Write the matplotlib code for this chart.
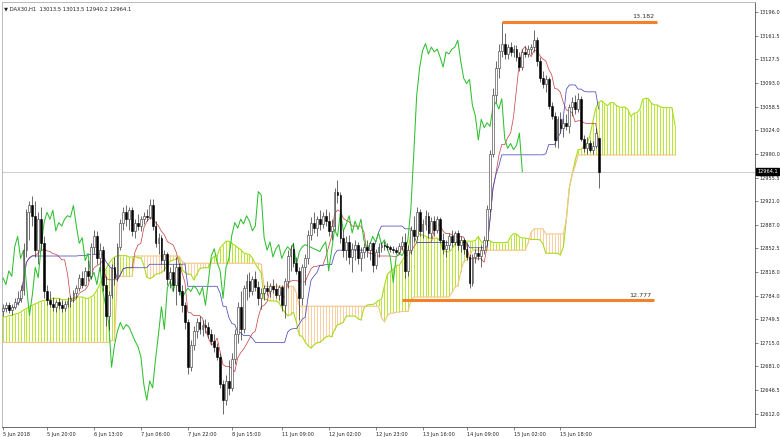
import numpy as np
import pandas as pd
import matplotlib
matplotlib.use("Agg")
import matplotlib.pyplot as plt

# DAX30 H1 candles
opens = [12762, 12766, 12770, 12763, 12768, 12774, 12780, 12792, 12850, 12905,
         12915, 12900, 12850, 12895, 12860, 12790, 12778, 12772, 12768, 12774,
         12770, 12766, 12772, 12776, 12780, 12788, 12795, 12810, 12800, 12820,
         12812, 12855, 12870, 12838, 12850, 12800, 12755, 12785, 12825, 12810,
         12855, 12890, 12905, 12895, 12908, 12878, 12890, 12885, 12895, 12900,
         12898, 12915, 12885, 12860, 12868, 12835, 12845, 12808, 12818, 12800,
         12825, 12790, 12770, 12745, 12680, 12712, 12732, 12745, 12735, 12742,
         12738, 12728, 12718, 12710, 12695, 12655, 12632, 12660, 12650, 12692,
         12728, 12768, 12735, 12795, 12805, 12790, 12808, 12796, 12780, 12788,
         12795, 12790, 12798, 12794, 12785, 12796, 12770, 12805, 12842, 12852,
         12832, 12820, 12780, 12825, 12838, 12872, 12890, 12882, 12895, 12888,
         12900, 12892, 12878, 12885, 12935, 12930, 12868, 12850, 12862, 12840,
         12852, 12858, 12838, 12848, 12855, 12850, 12860, 12828, 12848, 12855,
         12858, 12856, 12854, 12852, 12850, 12848, 12856, 12862, 12820, 12850,
         12880, 12870, 12905, 12878, 12888, 12900, 12875, 12892, 12880, 12895,
         12865, 12852, 12858, 12870, 12862, 12875, 12858, 12865, 12852, 12840,
         12803, 12840, 12846, 12842, 12850, 12865, 12910, 12990, 13075, 13115,
         13140, 13150, 13135, 13145, 13138, 13142, 13130, 13116, 13138, 13135,
         13142, 13145, 13155, 13125, 13100, 13092, 13098, 13060, 13045, 13010,
         13040, 13028, 13035, 13030, 13058, 13065, 13055, 13070, 13012, 12998,
         13005, 12996, 13002, 13013.5]
highs = [12772, 12775, 12774, 12772, 12780, 12790, 12800, 12860, 12910, 12922,
         12928, 12922, 12905, 12912, 12870, 12800, 12790, 12782, 12778, 12780,
         12778, 12776, 12782, 12785, 12792, 12800, 12815, 12820, 12825, 12835,
         12860, 12880, 12878, 12860, 12856, 12812, 12790, 12830, 12840, 12860,
         12895, 12912, 12915, 12912, 12912, 12895, 12902, 12900, 12906, 12910,
         12925, 12925, 12892, 12875, 12872, 12850, 12848, 12825, 12830, 12840,
         12832, 12800, 12775, 12750, 12720, 12740, 12752, 12755, 12748, 12750,
         12745, 12735, 12728, 12715, 12700, 12662, 12668, 12690, 12700, 12735,
         12775, 12790, 12800, 12815, 12818, 12812, 12820, 12805, 12795, 12800,
         12805, 12802, 12808, 12803, 12800, 12800, 12810, 12850, 12858, 12860,
         12840, 12825, 12830, 12845, 12880, 12898, 12905, 12900, 12908, 12906,
         12910, 12905, 12895, 12940, 12952, 12935, 12880, 12870, 12872, 12860,
         12865, 12862, 12855, 12860, 12865, 12862, 12862, 12852, 12860, 12862,
         12864, 12860, 12858, 12856, 12855, 12860, 12870, 12875, 12858, 12885,
         12900, 12912, 12910, 12895, 12908, 12905, 12898, 12900, 12900, 12898,
         12875, 12865, 12875, 12880, 12878, 12880, 12870, 12868, 12860, 12845,
         12845, 12852, 12855, 12858, 12870, 12915, 12995, 13085, 13125, 13150,
         13182, 13165, 13150, 13152, 13148, 13148, 13138, 13142, 13146, 13148,
         13150, 13170, 13160, 13130, 13110, 13105, 13102, 13065, 13050, 13045,
         13050, 13042, 13048, 13062, 13072, 13075, 13078, 13074, 13018, 13015,
         13010, 13008, 13028, 13013.5]
lows = [12755, 12760, 12758, 12756, 12764, 12770, 12775, 12785, 12840, 12865,
        12885, 12840, 12830, 12850, 12780, 12770, 12768, 12762, 12760, 12765,
        12760, 12762, 12768, 12768, 12775, 12780, 12790, 12795, 12798, 12805,
        12808, 12845, 12830, 12820, 12790, 12740, 12734, 12780, 12800, 12805,
        12850, 12880, 12885, 12880, 12870, 12868, 12880, 12878, 12888, 12892,
        12895, 12880, 12855, 12845, 12830, 12820, 12800, 12795, 12790, 12770,
        12785, 12760, 12735, 12670, 12675, 12705, 12722, 12728, 12725, 12730,
        12722, 12712, 12702, 12690, 12650, 12612, 12625, 12640, 12645, 12685,
        12715, 12720, 12730, 12778, 12782, 12785, 12790, 12770, 12765, 12778,
        12785, 12782, 12788, 12780, 12778, 12762, 12752, 12795, 12820, 12825,
        12815, 12748, 12770, 12800, 12830, 12865, 12875, 12870, 12880, 12882,
        12885, 12870, 12865, 12880, 12918, 12860, 12840, 12835, 12830, 12818,
        12835, 12830, 12820, 12838, 12840, 12835, 12818, 12822, 12840, 12848,
        12850, 12850, 12848, 12846, 12844, 12845, 12850, 12810, 12812, 12845,
        12862, 12865, 12870, 12868, 12880, 12868, 12868, 12870, 12875, 12860,
        12845, 12840, 12850, 12855, 12858, 12850, 12848, 12845, 12836, 12795,
        12798, 12832, 12835, 12825, 12845, 12858, 12905, 12985, 13065, 13100,
        13130, 13128, 13128, 13132, 13130, 13125, 13110, 13112, 13130, 13130,
        13135, 13138, 13118, 13095, 13085, 13080, 13055, 13040, 13000, 12998,
        13020, 13015, 13025, 13020, 13045, 13048, 13050, 13008, 12992, 12990,
        12992, 12990, 12998, 12940.2]
closes = [12766, 12770, 12763, 12768, 12774, 12780, 12792, 12850, 12905, 12915,
          12900, 12850, 12895, 12860, 12790, 12778, 12772, 12768, 12774, 12770,
          12766, 12772, 12776, 12780, 12788, 12795, 12810, 12800, 12820, 12812,
          12855, 12870, 12838, 12850, 12800, 12755, 12785, 12825, 12810, 12855,
          12890, 12905, 12895, 12908, 12878, 12890, 12885, 12895, 12900, 12898,
          12915, 12885, 12860, 12868, 12835, 12845, 12808, 12818, 12800, 12825,
          12790, 12770, 12745, 12680, 12712, 12732, 12745, 12735, 12742, 12738,
          12728, 12718, 12710, 12695, 12655, 12632, 12660, 12650, 12692, 12728,
          12768, 12735, 12795, 12805, 12790, 12808, 12796, 12780, 12788, 12795,
          12790, 12798, 12794, 12785, 12796, 12770, 12805, 12842, 12852, 12832,
          12820, 12780, 12825, 12838, 12872, 12890, 12882, 12895, 12888, 12900,
          12892, 12878, 12885, 12935, 12930, 12868, 12850, 12862, 12840, 12852,
          12858, 12838, 12848, 12855, 12850, 12860, 12828, 12848, 12855, 12858,
          12856, 12854, 12852, 12850, 12848, 12856, 12862, 12820, 12850, 12880,
          12870, 12905, 12878, 12888, 12900, 12875, 12892, 12880, 12895, 12865,
          12852, 12858, 12870, 12862, 12875, 12858, 12865, 12852, 12840, 12803,
          12840, 12846, 12842, 12850, 12865, 12910, 12990, 13075, 13115, 13140,
          13150, 13135, 13145, 13138, 13142, 13130, 13116, 13138, 13135, 13142,
          13145, 13155, 13125, 13100, 13092, 13098, 13060, 13045, 13010, 13040,
          13028, 13035, 13030, 13058, 13065, 13055, 13070, 13012, 12998, 13005,
          12996, 13002, 13020, 12964.1]

# cloud at the left edge (built from bars before the visible window)
early_span_a = [12753, 12753, 12755, 12755, 12757, 12758, 12760, 12763, 12765, 12768,
                12770, 12772, 12774, 12776, 12777, 12778, 12778, 12780, 12780, 12780,
                12778, 12778, 12778, 12780, 12780, 12782, 12782, 12782, 12780, 12780,
                12782, 12785, 12792, 12800, 12812, 12822, 12830, 12836, 12840, 12842,
                12842, 12842, 12842, 12840, 12840]
early_span_b = [12716, 12716, 12716, 12716, 12716, 12716, 12716, 12716, 12716, 12716,
                12716, 12716, 12716, 12716, 12716, 12716, 12716, 12716, 12716, 12716,
                12716, 12716, 12716, 12716, 12716, 12716, 12716, 12716, 12716, 12716,
                12716, 12716, 12716, 12716, 12716, 12716, 12716, 12719, 12719, 12812,
                12812, 12812, 12812, 12812, 12812]

x_labels = ["5 Jun 2018", "5 Jun 20:00", "6 Jun 13:00", "7 Jun 06:00", "7 Jun 22:00",
            "8 Jun 15:00", "11 Jun 09:00", "12 Jun 02:00", "12 Jun 23:00",
            "13 Jun 16:00", "14 Jun 09:00", "15 Jun 02:00", "15 Jun 18:00"]
x_label_bars = [0, 15, 31, 47, 63, 78, 95, 111, 127, 143, 158, 174, 190]
y_ticks = [13196.0, 13161.5, 13127.5, 13093.0, 13058.5, 13024.0, 12990.0, 12955.5,
           12921.0, 12887.0, 12852.5, 12818.0, 12784.0, 12749.5, 12715.0, 12681.0,
           12646.5, 12612.0]
level_high = 13182
level_low = 12777
last_price = 12964.1

df = pd.DataFrame({"open": opens, "high": highs, "low": lows, "close": closes})
n = len(df)
bars = np.arange(n)

# ichimoku 9/26/52
tenkan = (df["high"].rolling(9, min_periods=1).max() + df["low"].rolling(9, min_periods=1).min()) / 2
kijun = (df["high"].rolling(26, min_periods=1).max() + df["low"].rolling(26, min_periods=1).min()) / 2
calc_a = ((tenkan + kijun) / 2).values
calc_b = ((df["high"].rolling(52, min_periods=1).max() + df["low"].rolling(52, min_periods=1).min()) / 2).values
k = len(early_span_a)
span_a = np.concatenate([early_span_a, calc_a[k - 26:]])
span_b = np.concatenate([early_span_b, calc_b[k - 26:]])
span_x = np.arange(len(span_a))

W, H = 780, 437
fig = plt.figure(figsize=(W / 100, H / 100), dpi=100)
ax = fig.add_axes([2 / W, 10 / H, 753 / W, 425 / H])

# cloud
up = span_a >= span_b
ax.vlines(span_x[up], span_b[up], span_a[up], color="#b8e62e", lw=0.7)
ax.vlines(span_x[~up], span_a[~up], span_b[~up], color="#f9cf9f", lw=0.7)
ax.plot(span_x, span_a, color="#a6dc1e", lw=0.8)
ax.plot(span_x, span_b, color="#f5c48a", lw=0.8)

# lines
ax.axhline(last_price, color="#c8c8c8", lw=0.6)
ax.plot(bars, tenkan, color="#cc4a4a", lw=0.55)
ax.plot(bars, kijun, color="#4a4ab8", lw=0.55)
ax.plot(bars - 26, df["close"], color="#2fc02f", lw=0.75)

# candles
o = df["open"].values
c = df["close"].values
ax.vlines(bars, df["low"], df["high"], color="#303030", lw=0.5, zorder=3)
bull = c >= o
ax.bar(bars[bull], c[bull] - o[bull], bottom=o[bull], width=0.62,
       color="white", edgecolor="#303030", lw=0.4, zorder=4)
ax.bar(bars[~bull], o[~bull] - c[~bull], bottom=c[~bull], width=0.62,
       color="black", edgecolor="black", lw=0.4, zorder=4)

# support / resistance levels
ax.hlines(level_high, 170, 223, color="#f5822a", lw=2.2, zorder=5)
ax.hlines(level_low, 136, 222, color="#f5822a", lw=2.2, zorder=5)
ax.text(222, level_high + 4, "13.182", ha="right", va="bottom", fontsize=4.6, color="#333333")
ax.text(221, level_low + 4, "12.777", ha="right", va="bottom", fontsize=4.6, color="#333333")

ax.set_xlim(-0.34, 256.3)
ax.set_ylim(12593.1, 13210.5)

ax.yaxis.tick_right()
ax.set_yticks(y_ticks)
ax.set_yticklabels([f"{v:.1f}" for v in y_ticks], fontsize=3.6, color="#222222")
ax.set_xticks(x_label_bars)
ax.set_xticklabels(x_labels, fontsize=3.6, color="#222222", ha="left")
ax.tick_params(axis="y", length=2, width=0.5, pad=1.5, colors="#555555", labelcolor="#222222")
ax.tick_params(axis="x", length=2, width=0.5, pad=1.5, colors="#555555", labelcolor="#222222")
for s in ["left", "top"]:
    ax.spines[s].set_color("#b0b0b0")
    ax.spines[s].set_linewidth(0.6)
for s in ["right", "bottom"]:
    ax.spines[s].set_color("#555555")
    ax.spines[s].set_linewidth(0.6)

ax.text(0.002, 0.99, "\u25bc DAX30,H1  13013.5 13013.5 12940.2 12964.1", transform=ax.transAxes,
        fontsize=3.8, va="top", ha="left", color="#222222")
ax.text(1.003, last_price, "12964.1", transform=ax.get_yaxis_transform(), fontsize=3.6,
        color="white", va="center", ha="left",
        bbox=dict(facecolor="black", edgecolor="black", pad=0.6))

fig.savefig("out.png", dpi=100)
